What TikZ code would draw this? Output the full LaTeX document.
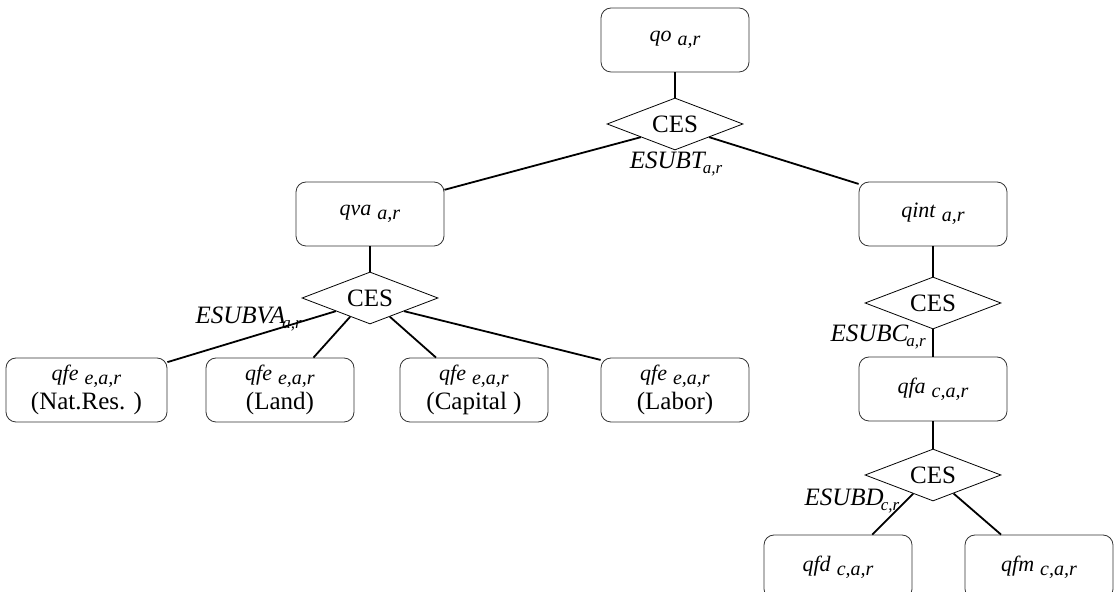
\documentclass[tikz,border=0pt]{standalone}
\usepackage{fontspec}
\setmainfont{Liberation Serif}
\usetikzlibrary{shapes.geometric,calc}

\newcommand{\vsub}[1]{\hspace{3pt}\raisebox{-1.8pt}{\fontsize{10}{11}\selectfont\itshape #1}}
\newcommand{\esub}[1]{\raisebox{-2.5pt}{\fontsize{8.5}{9}\selectfont\itshape #1}}

\begin{document}
\begin{tikzpicture}[x=0.5pt,y=-0.5pt,semithick]
\tikzstyle{box}=[draw=black!80,thin,rounded corners=5pt,minimum width=74pt,minimum height=32pt,
                 inner sep=0pt,align=center,font=\fontsize{11}{14}\selectfont]
\tikzstyle{ces}=[draw,thin,diamond,aspect=2.6,minimum width=68pt,minimum height=26pt,
                 inner sep=0pt,font=\fontsize{12.5}{14}\selectfont]
\tikzstyle{elast}=[font=\fontsize{12.5}{14}\selectfont\itshape,inner sep=0pt]

\useasboundingbox (0,0) rectangle (1119,592);

        % top nest
        \node[box]                   (qo)     at (675,40)   {\textit{qo}\vsub{a,r}};
        \node[ces]                   (ces1)   at (675,124)  {CES};
        \node[elast]                 (esubt)  at (676,164)  {ESUBT\kern-1pt\esub{a,r}};

        \node[box]                   (qva)    at (370,214)  {\textit{qva}\vsub{a,r}};
        \node[box]                   (qint)   at (933,214)  {\textit{qint}\vsub{a,r}};

        % value added nest
        \node[ces]                   (ces2)   at (370,298)  {CES};
        \node[elast,anchor=west]     (esubva) at (195,319)  {ESUBVA\kern-1.5pt\esub{a,r}};

        \node[box,minimum width=80.5pt] (natres) at (86.5,390) {\textit{qfe}\vsub{e,a,r}\\[0.5pt]{\fontsize{12.5}{14}\selectfont (Nat.Res. )}};
        \node[box]                   (land)    at (280,390)  {\textit{qfe}\vsub{e,a,r}\\[0.5pt]{\fontsize{12.5}{14}\selectfont (Land)}};
        \node[box]                   (capital) at (474,390)  {\textit{qfe}\vsub{e,a,r}\\[0.5pt]{\fontsize{12.5}{14}\selectfont (Capital )}};
        \node[box]                   (labor)   at (675,390)  {\textit{qfe}\vsub{e,a,r}\\[0.5pt]{\fontsize{12.5}{14}\selectfont (Labor)}};

        % intermediate nest
        \node[ces]                   (ces3)   at (933,303)  {CES};
        \node[elast,anchor=west]     (esubc)  at (830,337)  {ESUBC\kern-1pt\esub{a,r}};
        \node[box]                   (qfa)    at (933,389)  {\textit{qfa}\vsub{c,a,r}};

        % domestic / imported nest
        \node[ces]                   (ces4)   at (933,475)  {CES};
        \node[elast,anchor=west]     (esubd)  at (804,501)  {ESUBD\kern-1.5pt\esub{c,r}};
        \node[box]                   (qfd)    at (838,567)  {\textit{qfd}\vsub{c,a,r}};
        \node[box]                   (qfm)    at (1039,567) {\textit{qfm}\vsub{c,a,r}};

        \coordinate (c2l) at ($(ces2.south)!0.29!(ces2.west)$);
        \coordinate (c2r) at ($(ces2.south)!0.29!(ces2.east)$);
        \coordinate (landtop) at ($(land.north)!0.45!(land.north east)$);
        \coordinate (captop)  at ($(capital.north)!0.51!(capital.north west)$);
        \coordinate (c4l) at ($(ces4.south)!0.29!(ces4.west)$);
        \coordinate (c4r) at ($(ces4.south)!0.3!(ces4.east)$);
        \coordinate (qfdtop) at ($(qfd.north)!0.46!(qfd.north east)$);
        \coordinate (qfmtop) at ($(qfm.north)!0.51!(qfm.north west)$);

        \path[line width=0.9pt]
        (qo)               edge (ces1)
        (ces1.south west)  edge (qva.18)
        (ces1.south east)  edge (qint.158)
        (qva)              edge (ces2)
        (ces2.south west)  edge (natres.19)
        (c2l)              edge (landtop)
        (c2r)              edge (captop)
        (ces2.south east)  edge (labor.158)
        (qint)             edge (ces3)
        (ces3)             edge (qfa)
        (qfa)              edge (ces4)
        (c4l)              edge (qfdtop)
        (c4r)              edge (qfmtop)
        ; %end path

\end{tikzpicture}
\end{document}
